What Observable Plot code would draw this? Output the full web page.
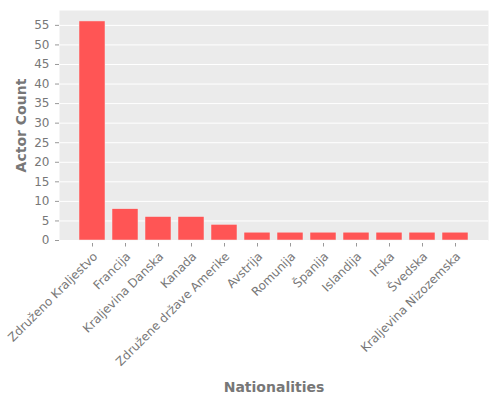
<!DOCTYPE html>
<html>
<head>
<meta charset="utf-8">
<script src="https://cdn.jsdelivr.net/npm/d3@7"></script>
<script src="https://cdn.jsdelivr.net/npm/@observablehq/plot@0.6"></script>
<style>
  body { margin: 0; background: white; }
</style>
</head>
<body>
<div id="chart"></div>
<script>
const nationalities = [
  "Združeno Kraljestvo", "Francija", "Kraljevina Danska", "Kanada",
  "Združene države Amerike", "Avstrija", "Romunija", "Španija",
  "Islandija", "Irska", "Švedska", "Kraljevina Nizozemska"
];
const counts = [56, 8, 6, 6, 4, 2, 2, 2, 2, 2, 2, 2];
const yTicks = [0, 5, 10, 15, 20, 25, 30, 35, 40, 45, 50, 55];

const data = nationalities.map((n, i) => ({ nationality: n, count: counts[i] }));

const chart = Plot.plot({
  width: 500,
  height: 400,
  marginLeft: 59,
  marginRight: 12,
  marginTop: 10,
  marginBottom: 160,
  style: { fontFamily: "DejaVu Sans", fontSize: "12px", color: "#777", background: "white" },
  x: { domain: nationalities, paddingInner: 0.2, paddingOuter: 0.59, label: null },
  y: { domain: [0, 58.8], label: null },
  marks: [
    Plot.frame({ fill: "#EBEBEB", stroke: null }),
    Plot.gridY(yTicks, { stroke: "white", strokeOpacity: 1, strokeWidth: 1 }),
    Plot.barY(data, { x: "nationality", y: "count", fill: "#FF5555", stroke: "#EEEEEE", strokeWidth: 0.5 }),
    Plot.axisY(yTicks, { tickSize: 4, tickPadding: 6, stroke: "#999", fill: "#777", label: null }),
    // tick marks, slightly detached from the panel
    Plot.axisX({ tickSize: 3.5, text: null, stroke: "#999", label: null, dy: 3 }),
    // rotated tick labels
    Plot.axisX({ tickSize: 0, tickPadding: 14, tickRotate: -45, fill: "#777", label: null, dx: 3 }),
    Plot.text(["Actor Count"], { frameAnchor: "left", textAnchor: "middle", rotate: -90, dx: -38, fontSize: 14, fontWeight: "bold", fill: "#777" }),
    Plot.text(["Nationalities"], { frameAnchor: "bottom", dy: 151, fontSize: 14, fontWeight: "bold", fill: "#777" })
  ]
});

document.getElementById("chart").append(chart);
</script>
</body>
</html>
